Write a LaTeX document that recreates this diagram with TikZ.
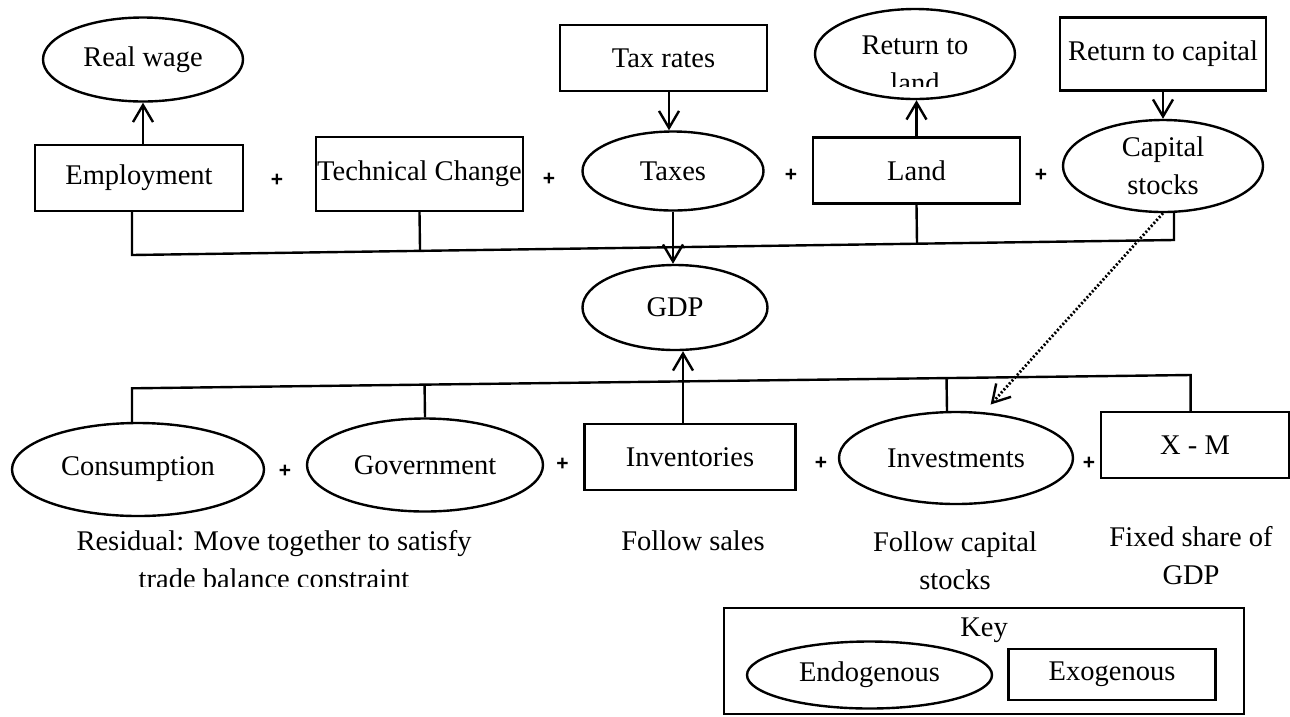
\documentclass[tikz,border=0pt]{standalone}
\usepackage{fontspec}
\setmainfont{Liberation Serif}
\newfontfamily\plusfont{Liberation Sans}
\usetikzlibrary{shapes.geometric,arrows.meta,calc}
\begin{document}
\begin{tikzpicture}[x=1pt,y=-1pt,
  every node/.style={font=\fontsize{28.5}{38}\selectfont, inner sep=0pt, align=center},
  endo/.style={draw, ellipse, line width=2.4pt},
  exo/.style={draw, rectangle, line width=2.4pt},
  plus/.style={font=\plusfont\bfseries\fontsize{21}{21}\selectfont},
  note/.style={},
  link/.style={line width=2.4pt},
  arr/.style={line width=2.4pt, -{Straight Barb[length=17pt,width=20pt]}},
  dotarr/.style={line width=2.8pt, dash pattern=on 2pt off 2pt, -{Straight Barb[length=17pt,width=20pt,line width=2.4pt,sep]}}
]
\useasboundingbox (0,0) rectangle (1290,716);

% top row
\node[endo, minimum width=200pt, minimum height=84pt] (rw) at (143,59.5) {Real wage};
\node[exo, minimum width=208pt, minimum height=66pt] (emp) at (139,178) {Employment};
\node[exo, minimum width=207pt, minimum height=74pt] (tc) at (419.5,174) {\raisebox{4pt}{Technical Change}};
\node[exo, minimum width=207pt, minimum height=66pt] (taxrates) at (663.5,58) {Tax rates};
\node[endo, minimum width=181pt, minimum height=79pt] (taxes) at (673,171) {Taxes};
\node[endo, minimum width=200pt, minimum height=90pt] (rtl) at (915,54) {};
\begin{scope}
  \clip (800,0) rectangle (1030,86);
  \node (rtltext) at (915,64) {Return to\\land};
\end{scope}
\node[exo, minimum width=207pt, minimum height=66pt] (land) at (916.5,170.5) {Land};
\node[exo, minimum width=206pt, minimum height=73pt] (rtc) at (1163,54) {Return to capital};
\node[endo, minimum width=200pt, minimum height=92pt] (cap) at (1163,166) {Capital\\stocks};

\node[plus] (p1) at (277,180) {+};
\node[plus] (p2) at (549,179) {+};
\node[plus] (p3) at (791,175) {+};
\node[plus] (p4) at (1041,175.7) {+};

% GDP
\node[endo, minimum width=185pt, minimum height=85pt] (gdp) at (675,307.5) {GDP};

% bottom row
\node[endo, minimum width=252pt, minimum height=93pt] (cons) at (138,469.5) {Consumption};
\node[endo, minimum width=236pt, minimum height=93pt] (gov) at (425,465) {Government};
\node[exo, minimum width=211pt, minimum height=66pt] (inv) at (690,457) {Inventories};
\node[endo, minimum width=234pt, minimum height=92pt] (invest) at (956,458) {Investments};
\node[exo, minimum width=188pt, minimum height=66pt] (xm) at (1195,445) {X - M};

\node[plus] (p5) at (285,471.7) {+};
\node[plus] (p6) at (562.6,464) {+};
\node[plus] (p7) at (821,463) {+};
\node[plus] (p8) at (1089,463) {+};

% notes
\begin{scope}
  \clip (0,500) rectangle (600,586);
  \node[note] (n1) at (274,560) {Residual: Move together to satisfy\\trade balance constraint};
\end{scope}
\node[note] (n2) at (693,541) {Follow sales};
\node[note] (n3) at (955,561) {Follow capital\\stocks};
\node[note] (n4) at (1191,556) {Fixed share of\\GDP};

% key
\node[exo, minimum width=520pt, minimum height=106pt] (key) at (984,661) {};
\node (keytext) at (984,630) {Key};
\node[endo, minimum width=245pt, minimum height=67pt] (endok) at (869.5,675) {Endogenous};
\node[exo, minimum width=207pt, minimum height=51pt] (exok) at (1112,674.5) {Exogenous};

% connectors top
\coordinate (busL) at (132,255);
\coordinate (busR) at (1174,240);
\draw[link] (emp.south -| busL) -- (busL) -- (busR) -- (busR |- cap.south);
\draw[link] (tc.south) -- ($(busL)!(tc.south)!(busR)$);
\draw[link] (land.south) -- ($(busL)!(land.south)!(busR)$);

\draw[arr] (rw.south |- emp.north) -- (rw.south);
\draw[arr] ([xshift=-4pt]taxes.north |- taxrates.south) -- ([xshift=-4pt]taxes.north);
\draw[arr] (taxes.south) -- (taxes.south |- gdp.north);
\draw[arr] (land.north) -- (land.north |- rtl.south);
\draw[arr] (rtc.south) -- (cap.north);

% connectors bottom
\coordinate (lbL) at (132,388.3);
\coordinate (lbR) at (1190.6,375);
\draw[link] (lbL |- cons.north) -- (lbL) -- (lbR) -- (lbR |- xm.north);
\draw[link] (gov.north) -- ($(lbL)!(gov.north)!(lbR)$);
\draw[link] ([xshift=-9pt]invest.north) -- ($(lbL)!([xshift=-9pt]invest.north)!(lbR)$);
\draw[arr] ([xshift=-7pt]inv.north) -- ([xshift=-7pt]inv.north |- gdp.south);

\draw[dotarr] (cap.south) -- ([xshift=33.5pt,yshift=5pt]invest.north);
\end{tikzpicture}
\end{document}
